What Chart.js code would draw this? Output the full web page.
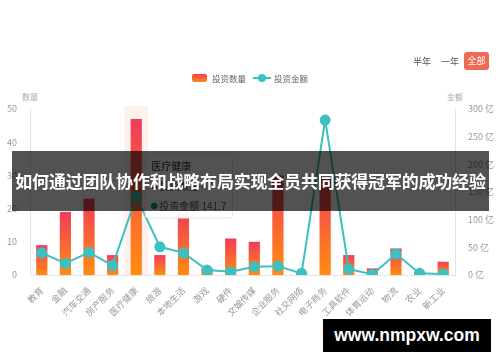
<!DOCTYPE html>
<html>
<head>
<meta charset="utf-8">
<script src="https://cdn.jsdelivr.net/npm/chart.js@4/dist/chart.umd.min.js"></script>
<style>
  body { margin: 0; background: #fff; font-family: "Noto Sans CJK SC", "Noto Sans", sans-serif; }
  .wrap { position: relative; width: 500px; height: 362px; overflow: hidden; }
  canvas { position: absolute; left: 0; top: 0; }
  .btn { position: absolute; font-size: 9px; color: #555; top: 55px; }
  .btn.on { background: #ee6a51; color: #fff; border-radius: 3px; left: 464px; top: 52px; width: 25px; height: 18px; line-height: 18px; text-align: center; }
  .legend { position: absolute; top: 72px; left: 192px; font-size: 8.5px; color: #666; display: flex; align-items: center; }
  .sw { width: 15px; height: 8px; border-radius: 2px; background: linear-gradient(#f23c5c, #ff8c0f); margin-right: 5px; }
  .ln { position: relative; width: 18px; height: 2px; background: #3cc1c0; margin: 0 3px 0 7px; }
  .ln:after { content: ''; position: absolute; left: 5px; top: -3px; width: 8px; height: 8px; border-radius: 50%; background: #3cc1c0; }
  .axt { position: absolute; top: 91px; font-size: 8px; color: #aaa; }
  .banner { position: absolute; left: 12px; top: 151px; width: 477px; height: 60px; background: rgba(0,0,0,0.68);
            color: #fff; font-weight: bold; font-size: 17px; line-height: 60px; text-align: center; white-space: nowrap; letter-spacing: -0.2px; }
  .mark { position: absolute; left: 323px; top: 319px; width: 168px; height: 33px; background: #000; color: #fff;
          font-family: "Liberation Sans", sans-serif; font-weight: bold; font-size: 17.5px; line-height: 33px; text-align: center; }
</style>
</head>
<body>
<div class="wrap">
  <canvas id="chart" width="500" height="362"></canvas>
  <span class="btn" style="left:413px">半年</span>
  <span class="btn" style="left:441px">一年</span>
  <span class="btn on">全部</span>
  <div class="legend"><span class="sw"></span>投资数量<span class="ln"></span>投资金额</div>
  <span class="axt" style="left:22px">数量</span>
  <span class="axt" style="left:447px">金额</span>
  <div class="banner">如何通过团队协作和战略布局实现全员共同获得冠军的成功经验</div>
  <div class="mark">www.nmpxw.com</div>
</div>
<script>
const categories = ['教育', '金融', '汽车交通', '房产服务', '医疗健康', '旅游', '本地生活', '游戏', '硬件',
  '文娱传媒', '企业服务', '社交网络', '电子商务', '工具软件', '体育运动', '物流', '农业', '新工业'];
const counts = [9, 19, 23, 6, 47, 6, 19, 2, 11, 10, 30, 1, 29, 6, 2, 8, 1, 4];
const amounts = [40, 21, 41, 17, 141.7, 51, 40, 9, 6, 15, 16, 3, 280, 11, 1, 38, 3, 2];
const countTicks = [0, 10, 20, 30, 40, 50];
const amountTicks = [0, 50, 100, 150, 200, 250, 300];
const hoverIndex = 4;

const font = 'Noto Sans CJK SC';

function barGradient(ctx) {
  const chart = ctx.chart;
  if (!chart.chartArea || ctx.type !== 'data') return '#f8653a';
  const top = chart.scales.y.getPixelForValue(ctx.parsed.y);
  const bot = chart.scales.y.getPixelForValue(0);
  if (bot - top < 1) return '#f8653a';
  const g = chart.ctx.createLinearGradient(0, top, 0, bot);
  g.addColorStop(0, '#f23c5c');
  g.addColorStop(1, '#ff8c0f');
  return g;
}

// light column behind the hovered category
const highlight = {
  id: 'highlight',
  beforeDatasetsDraw(chart) {
    const x = chart.scales.x;
    const w = x.width / categories.length;
    const cx = x.getPixelForValue(hoverIndex);
    const c = chart.ctx;
    c.save();
    c.fillStyle = 'rgba(253,225,212,0.45)';
    c.fillRect(cx - w / 2, chart.chartArea.top - 3, w, chart.chartArea.height + 3);
    c.restore();
  }
};

Chart.Tooltip.positioners.beside = function(items) {
  if (!items.length) return false;
  return { x: items[0].element.x + 12, y: this.chart.chartArea.top + 45, xAlign: 'left', yAlign: 'top' };
};

const chart = new Chart(document.querySelector('#chart'), {
  data: {
    labels: categories,
    datasets: [
      {
        type: 'bar', label: '投资数量', data: counts, yAxisID: 'y', order: 1,
        backgroundColor: barGradient, barPercentage: 0.5, categoryPercentage: 0.95
      },
      {
        type: 'line', label: '投资金额', data: amounts, yAxisID: 'y1', order: 0,
        borderColor: '#3cc1c0', borderWidth: 2, tension: 0,
        pointRadius: 4.5, pointBackgroundColor: '#3cc1c0', pointBorderColor: '#3cc1c0'
      }
    ]
  },
  options: {
    responsive: false,
    animation: false,
    events: [],
    layout: { padding: { top: 109, left: 0, right: 0, bottom: 0 } },
    plugins: {
      legend: { display: false },
      title: { display: false },
      tooltip: {
        enabled: true,
        position: 'beside',
        backgroundColor: 'rgba(255,255,255,0.96)',
        borderColor: '#e6e6e6', borderWidth: 1,
        titleColor: '#333', bodyColor: '#555',
        titleFont: { family: font, size: 10, weight: 'normal' },
        bodyFont: { family: font, size: 10 },
        padding: 6, caretSize: 0, caretPadding: 0, cornerRadius: 3,
        titleMarginBottom: 8, bodySpacing: 8,
        usePointStyle: true, boxWidth: 6, boxHeight: 6,
        callbacks: {
          label: c => c.dataset.label + ' ' + c.raw,
          labelColor: c => ({ borderColor: c.datasetIndex ? '#1a8f8e' : '#c0283a', backgroundColor: c.datasetIndex ? '#1a8f8e' : '#c0283a' })
        }
      }
    },
    scales: {
      x: {
        grid: { display: false },
        border: { display: true, color: '#e3e3e3' },
        ticks: { color: '#999', font: { family: font, size: 9 }, minRotation: 45, maxRotation: 45, padding: 2 },
        afterFit: s => { s.height = 87; }
      },
      y: {
        position: 'left', min: 0, max: 50,
        grid: { display: false },
        border: { display: true, color: '#e3e3e3' },
        afterBuildTicks: s => { s.ticks = countTicks.map(v => ({ value: v })); },
        ticks: { color: '#999', font: { family: font, size: 9 }, padding: 5 },
        afterFit: s => { s.width = 30; }
      },
      y1: {
        position: 'right', min: 0, max: 300,
        grid: { display: false },
        border: { display: true, color: '#e3e3e3' },
        afterBuildTicks: s => { s.ticks = amountTicks.map(v => ({ value: v })); },
        ticks: { color: '#999', font: { family: font, size: 9 }, padding: 5, callback: v => v + ' 亿' },
        afterFit: s => { s.width = 45; }
      }
    }
  },
  plugins: [highlight]
});

const px = chart.getDatasetMeta(0).data[hoverIndex];
chart.tooltip.setActiveElements(
  [{ datasetIndex: 0, index: hoverIndex }, { datasetIndex: 1, index: hoverIndex }],
  { x: px.x, y: px.y }
);
chart.update('none');
</script>
</body>
</html>
